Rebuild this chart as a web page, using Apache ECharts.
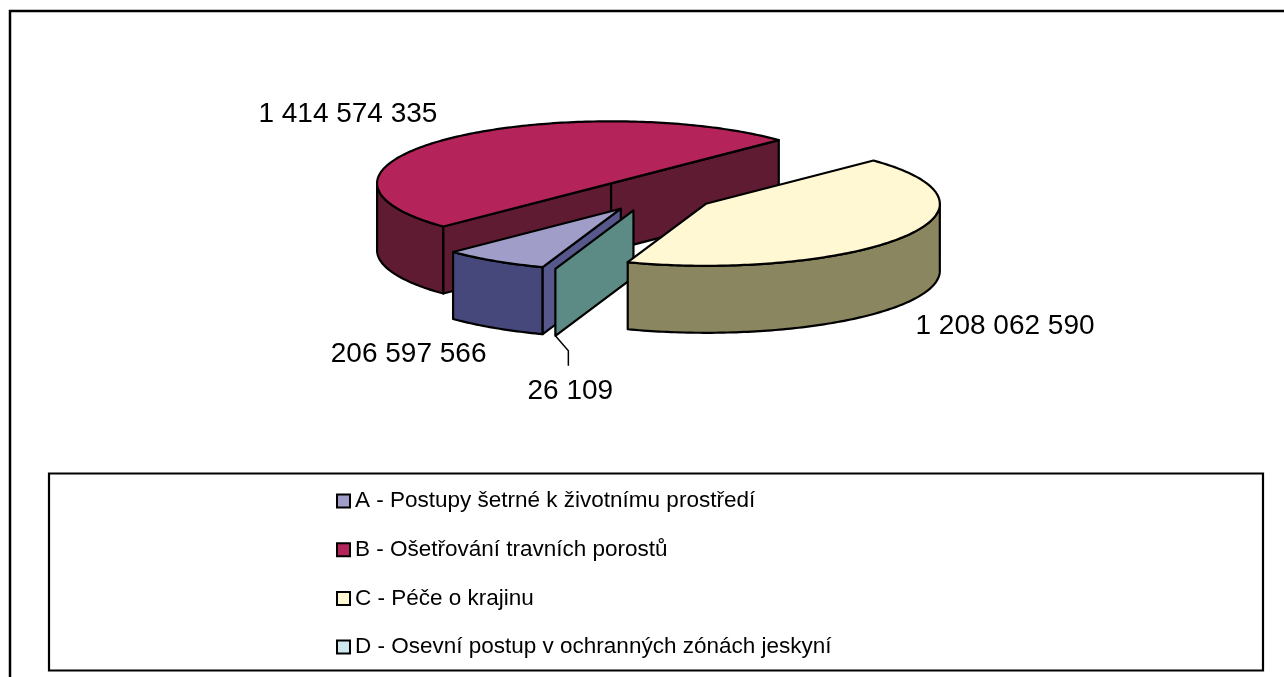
<!DOCTYPE html>
<html>
<head>
<meta charset="utf-8">
<title>Pie 3D</title>
<script src="https://cdn.jsdelivr.net/npm/echarts@6/dist/echarts.min.js"></script>
<style>
html, body { margin: 0; padding: 0; background: #fff; }
#chart { width: 1284px; height: 677px; }
</style>
</head>
<body>
<div id="chart"></div>
<script>
const categories = [
  'A - Postupy šetrné k životnímu prostředí',
  'B - Ošetřování travních porostů',
  'C - Péče o krajinu',
  'D - Osevní postup v ochranných zónách jeskyní'
]
const values = [206597566, 1414574335, 1208062590, 26109]

// top face / outer wall / cut face colours
const topColors = ['#a09ec9', '#b5235b', '#fff8d3', '#cfe9ef']
const wallColors = ['#46477a', '#5e1b31', '#8a8660', '#5c8a84']
const cutColors = ['#56588b', '#5e1b31', '#8a8660', '#5c8a84']

// layout of the tilted pie (px)
const CX = 654, CY = 195, RX = 234, RY = 62, DEPTH = 67
const EXPLODE = 0.263
const START = 109.5 // screen angle of first slice, clockwise
const FONT = "'Liberation Sans', Arial, sans-serif"

const fmt = v => String(v).replace(/\B(?=(\d{3})+(?!\d))/g, ' ')
const rad = d => d * Math.PI / 180
const total = values.reduce((s, v) => s + v, 0)

const slices = []
let acc = START
values.forEach((v) => {
  const sweep = v / total * 360
  const a0 = acc
  const a1 = acc + sweep
  const mid = (a0 + a1) / 2
  slices.push({
    a0, a1, mid, sweep,
    ox: CX + EXPLODE * RX * Math.cos(rad(mid)),
    oy: CY + EXPLODE * RY * Math.sin(rad(mid))
  })
  acc = a1
})

const rim = (s, a, down) => [
  s.ox + RX * Math.cos(rad(a)),
  s.oy + RY * Math.sin(rad(a)) + (down ? DEPTH : 0)
]
const arc = (s, b0, b1, down) => {
  const n = Math.max(2, Math.ceil(Math.abs(b1 - b0)) + 1)
  const pts = []
  for (let k = 0; k < n; k++) pts.push(rim(s, b0 + (b1 - b0) * k / (n - 1), down))
  return pts
}
// parts of the outer wall that face the viewer
const frontRanges = s => {
  const out = []
  for (let k = -1; k <= 2; k++) {
    const lo = Math.max(s.a0, 360 * k)
    const hi = Math.min(s.a1, 360 * k + 180)
    if (hi - lo > 0.01) out.push([lo, hi])
  }
  return out
}
// painter's order: back slices first
const depthKey = s => {
  let m = Math.max(Math.sin(rad(s.a0)), Math.sin(rad(s.a1)))
  for (let k = -1; k <= 2; k++) {
    const f = 90 + 360 * k
    if (f >= s.a0 && f <= s.a1) m = 1
  }
  return m * 1000 + s.oy
}
const order = slices.map((s, i) => i).sort((p, q) => depthKey(slices[p]) - depthKey(slices[q]))

const edge = { stroke: '#000', lineWidth: 2.2, lineJoin: 'round' }

const renderSlice = i => () => {
  const s = slices[i]
  const children = []
  frontRanges(s).forEach(([b0, b1]) => {
    const pts = arc(s, b0, b1, false).concat(arc(s, b1, b0, true))
    children.push({ type: 'polygon', z2: 1, shape: { points: pts }, style: Object.assign({ fill: wallColors[i] }, edge) })
  })
  const cut = a => [[s.ox, s.oy], rim(s, a, false), rim(s, a, true), [s.ox, s.oy + DEPTH]]
  if (Math.cos(rad(s.a0)) < 0) {
    children.push({ type: 'polygon', z2: 1, shape: { points: cut(s.a0) }, style: Object.assign({ fill: cutColors[i] }, edge) })
  }
  if (Math.cos(rad(s.a1)) > 0) {
    children.push({ type: 'polygon', z2: 1, shape: { points: cut(s.a1) }, style: Object.assign({ fill: cutColors[i] }, edge) })
  }
  if (s.sweep > 0.5) {
    const pts = [[s.ox, s.oy]].concat(arc(s, s.a0, s.a1, false))
    children.push({ type: 'polygon', z2: 2, shape: { points: pts }, style: Object.assign({ fill: topColors[i] }, edge) })
  }

  // value label
  const c = Math.cos(rad(s.mid))
  const sn = Math.sin(rad(s.mid))
  const anchor = rim(s, s.mid, sn > 0)
  const text = fmt(values[i])
  if (s.sweep < 1) {
    children.push({
      type: 'polyline', z2: 5,
      shape: { points: [anchor, [anchor[0] + 13, anchor[1] + 15], [anchor[0] + 13, anchor[1] + 30]] },
      style: { stroke: '#000', lineWidth: 1.5, fill: null }
    })
    children.push({
      type: 'text', z2: 5,
      style: { text, x: anchor[0] + 15, y: anchor[1] + 41, fill: '#000', fontSize: 28, fontFamily: FONT, align: 'center', verticalAlign: 'top' }
    })
  } else {
    children.push({
      type: 'text', z2: 5,
      style: {
        text,
        x: anchor[0] + 15 * c,
        y: anchor[1] + 15 * sn,
        fill: '#000', fontSize: 28, fontFamily: FONT,
        align: c < 0 ? 'right' : 'left',
        verticalAlign: sn < 0 ? 'bottom' : 'top'
      }
    })
  }
  return { type: 'group', children }
}

const chart = echarts.init(document.getElementById('chart'))
const option = {
  animation: false,
  backgroundColor: '#fff',
  legend: {
    orient: 'vertical',
    left: 336,
    top: 488,
    padding: 0,
    itemWidth: 13,
    itemHeight: 13,
    itemGap: 22.7,
    icon: 'rect',
    selectedMode: false,
    itemStyle: { borderColor: '#000', borderWidth: 2 },
    textStyle: { fontSize: 22.5, lineHeight: 26, fontFamily: FONT, color: '#000' },
    data: categories
  },
  graphic: [
    {
      type: 'rect', silent: true,
      shape: { x: 10, y: 11, width: 1300, height: 700 },
      style: { fill: 'transparent', stroke: '#000', lineWidth: 2.5 }
    },
    {
      type: 'rect', silent: true,
      shape: { x: 49, y: 473.5, width: 1214, height: 197 },
      style: { fill: 'transparent', stroke: '#000', lineWidth: 2.2 }
    }
  ],
  series: categories.map((name, i) => ({
    type: 'custom',
    name,
    coordinateSystem: 'none',
    silent: true,
    z: 2 + order.indexOf(i),
    itemStyle: { color: topColors[i] },
    data: [[values[i]]],
    renderItem: renderSlice(i)
  }))
}
chart.setOption(option)
</script>
</body>
</html>
